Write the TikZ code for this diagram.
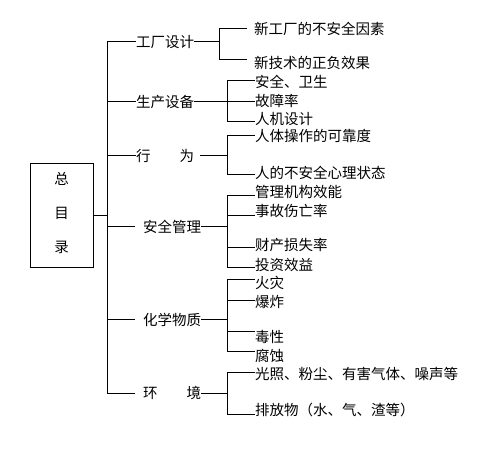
\documentclass[tikz,border=0pt]{standalone}
\usepackage{fontspec}
\newfontfamily\cjk{Noto Sans CJK SC}
\usetikzlibrary{positioning,calc}
\tikzset{
  rootbox/.style={draw,line width=1pt,minimum width=63pt,minimum height=104pt,
                  inner sep=0pt,align=center,text depth=8pt,
                  font=\cjk\fontsize{14.5}{34}\selectfont},
  cat/.style    ={anchor=west,inner sep=0pt,
                  font=\cjk\fontsize{14.5}{17}\selectfont},
  leaf/.style   ={anchor=west,inner sep=0pt,
                  font=\cjk\fontsize{14.5}{17}\selectfont},
  link/.style   ={draw,line width=1pt},
}
\begin{document}
\begin{tikzpicture}[x=1pt,y=-1pt]
\useasboundingbox (0,0) rectangle (477,449);
\node[rootbox] (root) at (61.5,216) {总\\目\\录};
\coordinate (trunkT) at (107,42);
\coordinate (trunkB) at (107,393);
\draw[link] (trunkT) -- (trunkB);
\draw[link] (root) -- (root -| trunkT);

% categories
\node[cat] (gc) at (136,42)  {工厂设计};
\node[cat] (sb) at (136,102) {生产设备};
\node[cat] (xw) at (136,156) {行　　为};
\node[cat] (aq) at (143,227) {安全管理};
\node[cat] (hx) at (143,320) {化学物质};
\node[cat] (hj) at (143,393) {环　　境};
\draw[link] (gc -| trunkT) -- (gc);
\draw[link] (sb -| trunkT) -- (sb);
\draw[link] (xw -| trunkT) -- (xw);
\draw[link] (aq -| trunkT) -- ([xshift=-8pt]aq.west);
\draw[link] (hx -| trunkT) -- ([xshift=-8pt]hx.west);
\draw[link] (hj -| trunkT) -- ([xshift=-8pt]hj.west);

% 工厂设计
\node[leaf] (gc1) at (254,29) {新工厂的不安全因素};
\node[leaf] (gc2) at (254,63) {新技术的正负效果};
\coordinate (gcT) at (219,29);
\coordinate (gcB) at (219,60);
\draw[link] (gc) -- (gc -| gcT);
\draw[link] (gcT) -- (gcB);
\draw[link] (gcT) -- ([xshift=-7pt]gcT -| gc1.west);
\draw[link] (gcB) -- ([xshift=-7pt]gcB -| gc2.west);

% 生产设备
\node[leaf] (sb1) at (255,82)  {安全、卫生};
\node[leaf] (sb2) at (255,101) {故障率};
\node[leaf] (sb3) at (255,119) {人机设计};
\coordinate (sbT) at (227,81);
\coordinate (sbB) at (227,122);
\draw[link] (sbT) -- (sbB);
\draw[link] (sb) -- (sb -| sb2.west);
\draw[link] (sbT) -- (sbT -| sb1.west);
\draw[link] (sbB) -- (sbB -| sb3.west);

% 行为
\node[leaf] (xw1) at (255,136) {人体操作的可靠度};
\node[leaf] (xw2) at (255,173) {人的不安全心理状态};
\coordinate (xwT) at (227,136);
\coordinate (xwB) at (227,175);
\draw[link] (xwT) -- (xwB);
\draw[link] ([xshift=6pt]xw.east) -- (xw -| xwT);
\draw[link] (xwT) -- (xwT -| xw1.west);
\draw[link] (xwB) -- (xwB -| xw2.west);

% 安全管理
\node[leaf] (aq1) at (255,192) {管理机构效能};
\node[leaf] (aq2) at (255,211) {事故伤亡率};
\node[leaf] (aq3) at (255,245) {财产损失率};
\node[leaf] (aq4) at (255,265) {投资效益};
\coordinate (aqT) at (227,196);
\coordinate (aq2c) at (227,216);
\coordinate (aq3c) at (227,248);
\coordinate (aqB) at (227,268);
\draw[link] (aqT) -- (aqB);
\draw[link] (aq) -- (aq -| aqT);
\draw[link] (aqT) -- (aqT -| aq1.west);
\draw[link] (aq2c) -- (aq2c -| aq2.west);
\draw[link] (aq3c) -- (aq3c -| aq3.west);
\draw[link] (aqB) -- (aqB -| aq4.west);

% 化学物质
\node[leaf] (hx1) at (255,283) {火灾};
\node[leaf] (hx2) at (255,302) {爆炸};
\node[leaf] (hx3) at (255,337) {毒性};
\node[leaf] (hx4) at (255,356) {腐蚀};
\coordinate (hxT) at (227,280);
\coordinate (hx2c) at (227,301);
\coordinate (hx3c) at (227,332);
\coordinate (hxB) at (227,352);
\draw[link] (hxT) -- (hxB);
\draw[link] (hx) -- (hx -| hxT);
\draw[link] (hxT) -- (hxT -| hx1.west);
\draw[link] (hx2c) -- (hx2c -| hx2.west);
\draw[link] (hx3c) -- (hx3c -| hx3.west);
\draw[link] (hxB) -- (hxB -| hx4.west);

% 环境
\node[leaf] (hj1) at (255,374) {光照、粉尘、有害气体、噪声等};
\node[leaf] (hj2) at (255,410) {排放物（水、气、渣等）};
\coordinate (hjT) at (227,372);
\coordinate (hjB) at (227,414);
\draw[link] (hjT) -- (hjB);
\draw[link] (hj) -- (hj -| hjT);
\draw[link] (hjT) -- (hjT -| hj1.west);
\draw[link] (hjB) -- (hjB -| hj2.west);
\end{tikzpicture}
\end{document}
